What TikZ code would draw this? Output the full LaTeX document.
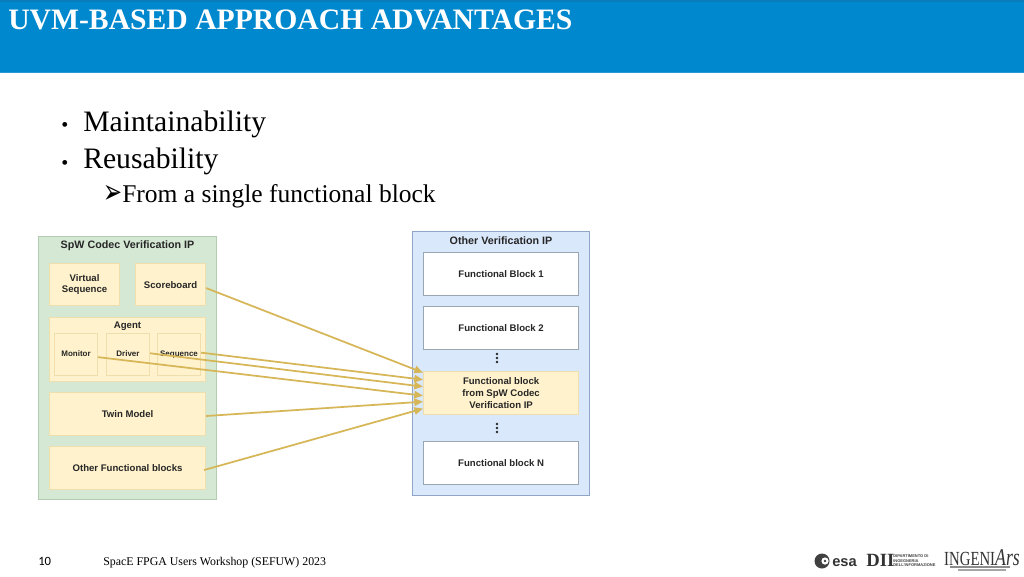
\documentclass[tikz,border=0pt]{standalone}
\usepackage{fontspec}
\setmainfont{Liberation Serif}
\setsansfont{Liberation Sans}
\newfontfamily\dejavu{DejaVu Sans}
\newfontfamily\carlito{Carlito}
\usetikzlibrary{arrows.meta}
\definecolor{hdr}{HTML}{0088CE}
\definecolor{hdrtop}{HTML}{0A7CBC}
\definecolor{hdrbot}{HTML}{2A9AD6}
\definecolor{grfill}{HTML}{D5E8D4}
\definecolor{grline}{HTML}{B4CDB2}
\definecolor{yefill}{HTML}{FFF2CC}
\definecolor{yeline}{HTML}{EFDFAE}
\definecolor{blfill}{HTML}{DAE8FC}
\definecolor{blline}{HTML}{8FA6C6}
\definecolor{whline}{HTML}{9AA6B2}
\definecolor{wire}{HTML}{D6B656}
\definecolor{txt}{HTML}{262626}
\tikzset{
  x=0.75pt,y=-0.75pt,
  box/.style={draw,line width=0.6pt,inner sep=0pt,align=center,anchor=north west,font=\sffamily\bfseries\fontsize{7.2pt}{8.7pt}\selectfont,text=txt},
  ybox/.style={box,fill=yefill,draw=yeline},
  smallbox/.style={ybox,minimum width=32.4pt,minimum height=31.8pt,font=\sffamily\bfseries\fontsize{6pt}{7pt}\selectfont,text height=4.6pt,text depth=1.3pt},
  wbox/.style={box,fill=white,draw=whline},
  grbox/.style={box,fill=grfill,draw=grline},
  blbox/.style={box,fill=blfill,draw=blline},
  hd/.style={font=\sffamily\bfseries\fontsize{8.05pt}{9pt}\selectfont,text=txt,inner sep=0pt},
  wirearrow/.style={draw=wire,line width=1.3pt,-{Triangle[length=6.5pt,width=5.5pt]}},
  bodytxt/.style={anchor=base west,inner sep=0pt,text=black},
  vdots/.style={fill=txt,circle,inner sep=0pt,minimum size=2pt},
}
\begin{document}
\begin{tikzpicture}
\useasboundingbox (0,0) rectangle (1024,576);
\fill[white] (0,0) rectangle (1024,576);
\fill[hdr] (0,0) rectangle (1024,72);
\fill[hdrtop] (0,0) rectangle (1024,1.5);
\fill[hdrbot] (0,71.5) rectangle (1024,72.5);
\node[bodytxt,text=white,font=\bfseries\fontsize{22.25pt}{24pt}\selectfont] (title) at (8,29.5) {UVM-BASED APPROACH ADVANTAGES};
\node[bodytxt,font=\fontsize{22.25pt}{24pt}\selectfont] (b1) at (83,131) {Maintainability};
\node[bodytxt,font=\fontsize{22.25pt}{24pt}\selectfont] (b2) at (83,168) {Reusability};
\node[bodytxt,font=\fontsize{15pt}{16pt}\selectfont] (d1) at (61,131) {•};
\node[bodytxt,font=\fontsize{15pt}{16pt}\selectfont] (d2) at (61,169) {•};
\node[bodytxt,font=\dejavu\bfseries\fontsize{17pt}{18pt}\selectfont,yscale=1.5] (d3) at (103,203) {➢};
\node[bodytxt,font=\fontsize{19.15pt}{20pt}\selectfont] (b3) at (122,202) {From a single functional block};
% left container
\node[grbox,minimum width=133.6pt,minimum height=197.4pt] (left) at (38,236) {};
\node[hd] (lefth) at (127.5,246) {SpW Codec Verification IP};
\node[ybox,minimum width=52.8pt,minimum height=31.8pt] (vs) at (49,263) {Virtual\\Sequence};
\node[ybox,minimum width=52.8pt,minimum height=31.8pt] (score) at (135,263) {Scoreboard};
\node[ybox,minimum width=117.2pt,minimum height=48.2pt] (agent) at (49,317) {};
\node[box,draw=none,anchor=center] (agentl) at (127.5,326.5) {Agent};
\node[smallbox] (mon) at (54,333) {Monitor};
\node[smallbox] (drv) at (106,333) {Driver};
\node[smallbox] (seq) at (157,333) {Sequence};
\node[ybox,minimum width=117.2pt,minimum height=32.4pt] (twin) at (49,392) {Twin Model};
\node[ybox,minimum width=117.2pt,minimum height=32.4pt] (other) at (49,446) {Other Functional blocks};
% right container
\node[blbox,minimum width=133pt,minimum height=198.2pt] (right) at (412,231) {};
\node[hd] (righth) at (501,241) {Other Verification IP};
\node[wbox,minimum width=116.6pt,minimum height=32.6pt] (fb1) at (423,252) {Functional Block 1};
\node[wbox,minimum width=116.6pt,minimum height=32.6pt] (fb2) at (423,306) {Functional Block 2};
\node[ybox,minimum width=116.6pt,minimum height=32.6pt] (fbs) at (423,371) {Functional block\\from SpW Codec\\Verification IP};
\node[wbox,minimum width=116.6pt,minimum height=32.6pt] (fbn) at (423,441) {Functional block N};
\foreach \i/\y in {a/354,b/358,c/362,d/424,e/428,f/432}{\node[vdots] (dot\i) at (497,\y) {};}
% connectors
\path[wirearrow] ([yshift=-2.6pt]score.east) -- ([yshift=15.4pt]fbs.west);
\path[wirearrow] ([yshift=1.5pt]seq.east) -- ([yshift=10.1pt]fbs.west);
\path[wirearrow] ([yshift=1pt]drv.east) -- ([yshift=4.9pt]fbs.west);
\path[wirearrow] ([yshift=-1.9pt]mon.east) -- ([yshift=-1.9pt]fbs.west);
\path[wirearrow] ([yshift=-1.5pt]twin.east) -- ([yshift=-6.4pt]fbs.west);
\path[wirearrow] ([yshift=-1.5pt,xshift=-1.5pt]other.east) -- ([yshift=-11.6pt]fbs.west);
% footer
\node[bodytxt,font=\carlito\fontsize{9.5pt}{11pt}\selectfont] (pg) at (38,565) {10};
\node[bodytxt,font=\fontsize{8.9pt}{10pt}\selectfont] (ft) at (103,565) {SpacE FPGA Users Workshop (SEFUW) 2023};
% logos
\fill[black!75] (822,561) circle (7.5);
\fill[white] (825,561) circle (3.6);
\fill[black!75] (825,561) circle (1.4);
\node[bodytxt,font=\sffamily\bfseries\fontsize{11pt}{12pt}\selectfont,text=black!80] (esa) at (832,566) {esa};
\node[bodytxt,font=\bfseries\fontsize{14pt}{14pt}\selectfont,text=black!80] (dii) at (866,566) {DII};
\node[anchor=west,inner sep=0pt,align=left,font=\sffamily\bfseries\fontsize{3pt}{3.3pt}\selectfont,text=black!75] (dd) at (893,561) {DIPARTIMENTO DI\\INGEGNERIA\\DELL'INFORMAZIONE};
\node[bodytxt,font=\fontsize{15pt}{16pt}\selectfont,text=black!80,xscale=0.74] (ing) at (944,565) {INGENI\textit{\fontsize{18pt}{18pt}\selectfont Ars}};
\draw[black!45,line width=0.8pt] (950,567) -- (1010,567);
\draw[black!35,line width=0.8pt] (958,570) -- (1006,570);
\end{tikzpicture}
\end{document}
